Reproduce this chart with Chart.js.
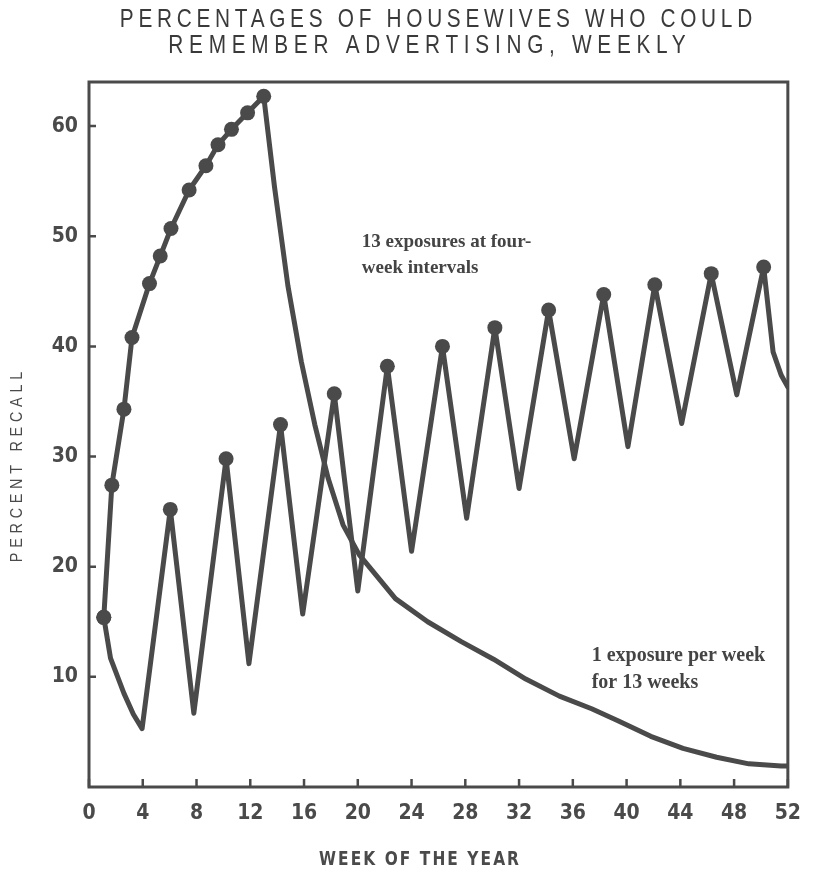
<!DOCTYPE html>
<html>
<head>
<meta charset="utf-8">
<script src="https://cdn.jsdelivr.net/npm/chart.js@4/dist/chart.umd.min.js"></script>
<style>
  html, body { margin: 0; padding: 0; background: #fff; }
  canvas { display: block; }
</style>
</head>
<body>
<canvas id="myChart" width="815" height="872"></canvas>
<script>
// 1 exposure per week for 13 weeks (dots on the first 13 points)
const weeklyWeek = [1.1, 1.7, 2.6, 3.2, 4.5, 5.3, 6.1, 7.45, 8.7, 9.6, 10.6, 11.8, 13.0,
    13.8, 14.8, 15.8, 16.8, 17.8, 18.9, 20.1, 22.8, 25.2, 27.7, 30.1, 32.5, 35.0, 37.4, 39.4, 41.8, 44.2, 46.7, 49.1, 51.5, 52];
const weeklyRecall = [15.4, 27.4, 34.3, 40.8, 45.7, 48.2, 50.7, 54.2, 56.4, 58.3, 59.7, 61.2, 62.7,
    54.5, 45.5, 38.6, 32.9, 28.0, 23.8, 21.1, 17.1, 15.0, 13.2, 11.6, 9.8, 8.25, 7.1, 6.0, 4.6, 3.5, 2.7, 2.1, 1.9, 1.9];
const weeklyExposures = 13;

// 13 exposures at four-week intervals
const fourWeekWeek = [1.1, 1.6, 2.6, 3.3, 3.95, 6.05, 7.8, 10.2, 11.9, 14.25, 15.9, 18.25, 20.0,
    22.2, 24.0, 26.3, 28.1, 30.2, 32.0, 34.2, 36.1, 38.3, 40.1, 42.1, 44.1, 46.3, 48.2, 50.2, 50.9, 51.5, 52];
const fourWeekRecall = [15.4, 11.7, 8.5, 6.6, 5.3, 25.2, 6.7, 29.8, 11.2, 32.9, 15.7, 35.7, 17.8,
    38.2, 21.4, 40.0, 24.4, 41.7, 27.1, 43.3, 29.8, 44.7, 30.9, 45.6, 33.0, 46.6, 35.6, 47.2, 39.5, 37.4, 36.3];
const fourWeekExposureWeeks = [1.1, 6.05, 10.2, 14.25, 18.25, 22.2, 26.3, 30.2, 34.2, 38.3, 42.1, 46.3, 50.2];

const xTickValues = [0, 4, 8, 12, 16, 20, 24, 28, 32, 36, 40, 44, 48, 52];
const yTickValues = [10, 20, 30, 40, 50, 60];

const titleLines = ['PERCENTAGES OF HOUSEWIVES WHO COULD', 'REMEMBER ADVERTISING, WEEKLY'];
const xTitle = 'WEEK OF THE YEAR';
const yTitle = 'PERCENT RECALL';
const fourWeekNote = ['13 exposures at four-', 'week intervals'];
const weeklyNote = ['1 exposure per week', 'for 13 weeks'];

const ink = '#4a4a4a';
const handFont = '"Liberation Sans Narrow", "DejaVu Sans Condensed", "Liberation Sans", sans-serif';

function toPoints(xs, ys) {
    var pts = [];
    for (var i = 0; i < xs.length; i++) {
        pts.push({ x: xs[i], y: ys[i] });
    }
    return pts;
}

// draw text stretched with letter spacing to a given width, squeezed sideways by sx
function spacedText(ctx, text, cx, cy, width, sx) {
    sx = sx || 1;
    ctx.save();
    ctx.translate(cx, cy);
    ctx.scale(sx, 1);
    ctx.letterSpacing = '0px';
    var w = ctx.measureText(text).width;
    var ls = (width / sx - w) / text.length;
    ctx.letterSpacing = ls + 'px';
    ctx.fillText(text, ls / 2, 0);
    ctx.restore();
}

const framePlugin = {
    id: 'frame',
    beforeDatasetsDraw: (chart) => {
        const ctx = chart.ctx;
        const a = chart.chartArea;
        const x = chart.scales.x;
        const y = chart.scales.y;
        ctx.save();
        ctx.strokeStyle = ink;
        ctx.lineWidth = 3;
        ctx.strokeRect(a.left, a.top, a.right - a.left, a.bottom - a.top);
        ctx.lineWidth = 2.5;
        ctx.beginPath();
        xTickValues.forEach(v => {
            const px = x.getPixelForValue(v);
            ctx.moveTo(px, a.bottom);
            ctx.lineTo(px, a.bottom - 8);
        });
        yTickValues.forEach(v => {
            const py = y.getPixelForValue(v);
            ctx.moveTo(a.left, py);
            ctx.lineTo(a.left + 7, py);
        });
        ctx.stroke();
        ctx.restore();
    }
};

const textPlugin = {
    id: 'texts',
    afterDraw: (chart) => {
        const ctx = chart.ctx;
        const x = chart.scales.x;
        const y = chart.scales.y;
        ctx.save();
        ctx.fillStyle = '#3a3a3a';
        ctx.textAlign = 'center';
        ctx.textBaseline = 'middle';
        // title (light, narrow, spaced out)
        ctx.font = '26px "Liberation Sans", sans-serif';
        spacedText(ctx, titleLines[0], 436, 20, 637, 0.8);
        spacedText(ctx, titleLines[1], 427, 46, 523, 0.8);
        // x axis title
        ctx.fillStyle = ink;
        ctx.font = 'bold 19px ' + handFont;
        spacedText(ctx, xTitle, 419, 860, 202, 0.9);
        // y axis title
        ctx.save();
        ctx.translate(18, 467);
        ctx.rotate(-Math.PI / 2);
        ctx.font = '16px "Liberation Sans", sans-serif';
        spacedText(ctx, yTitle, 0, 0, 195, 0.9);
        ctx.restore();
        // notes
        ctx.fillStyle = '#444';
        ctx.textAlign = 'left';
        ctx.font = 'bold 19px "Liberation Serif", "DejaVu Serif", serif';
        var nx = x.getPixelForValue(20.3);
        var ny = y.getPixelForValue(49.5);
        ctx.fillText(fourWeekNote[0], nx, ny);
        ctx.fillText(fourWeekNote[1], nx, ny + 26);
        ctx.font = 'bold 20px "Liberation Serif", "DejaVu Serif", serif';
        nx = x.getPixelForValue(37.4);
        ny = y.getPixelForValue(11.9);
        ctx.fillText(weeklyNote[0], nx, ny);
        ctx.fillText(weeklyNote[1], nx, ny + 27);
        ctx.restore();
    }
};

function plot() {
    const ctx = document.getElementById('myChart').getContext('2d');
    const data = {
        datasets: [{
            label: '1 exposure per week for 13 weeks',
            data: toPoints(weeklyWeek, weeklyRecall),
            borderColor: ink,
            backgroundColor: ink,
            borderWidth: 5,
            borderJoinStyle: 'round',
            borderCapStyle: 'round',
            tension: 0,
            pointRadius: weeklyWeek.map((w, i) => i < weeklyExposures ? 7.5 : 0),
            pointBorderWidth: 0
        }, {
            label: '13 exposures at four-week intervals',
            data: toPoints(fourWeekWeek, fourWeekRecall),
            borderColor: ink,
            backgroundColor: ink,
            borderWidth: 5,
            borderJoinStyle: 'round',
            borderCapStyle: 'round',
            tension: 0,
            pointRadius: fourWeekWeek.map(w => fourWeekExposureWeeks.includes(w) ? 7.5 : 0),
            pointBorderWidth: 0
        }]
    };
    const config = {
        type: 'line',
        data: data,
        options: {
            responsive: false,
            animation: false,
            layout: {
                padding: { top: 82, right: 15, left: 0, bottom: 0 }
            },
            plugins: {
                legend: { display: false },
                tooltip: { enabled: false }
            },
            scales: {
                x: {
                    type: 'linear',
                    position: 'bottom',
                    min: 0,
                    max: 52,
                    afterFit: (scale) => { scale.height = 85; },
                    afterBuildTicks: (scale) => {
                        scale.ticks = xTickValues.map(v => ({ value: v }));
                    },
                    grid: { display: false, drawTicks: false },
                    border: { display: false },
                    ticks: {
                        padding: 14,
                        color: ink,
                        font: { family: handFont, size: 21, weight: 'bold' }
                    }
                },
                y: {
                    type: 'linear',
                    min: 0,
                    max: 64,
                    afterFit: (scale) => { scale.width = 89; },
                    afterBuildTicks: (scale) => {
                        scale.ticks = yTickValues.map(v => ({ value: v }));
                    },
                    grid: { display: false, drawTicks: false },
                    border: { display: false },
                    ticks: {
                        padding: 11,
                        color: ink,
                        font: { family: handFont, size: 21, weight: 'bold' }
                    }
                }
            }
        },
        plugins: [framePlugin, textPlugin]
    };
    plot.myChart = new Chart(ctx, config);
}

plot();
</script>
</body>
</html>
